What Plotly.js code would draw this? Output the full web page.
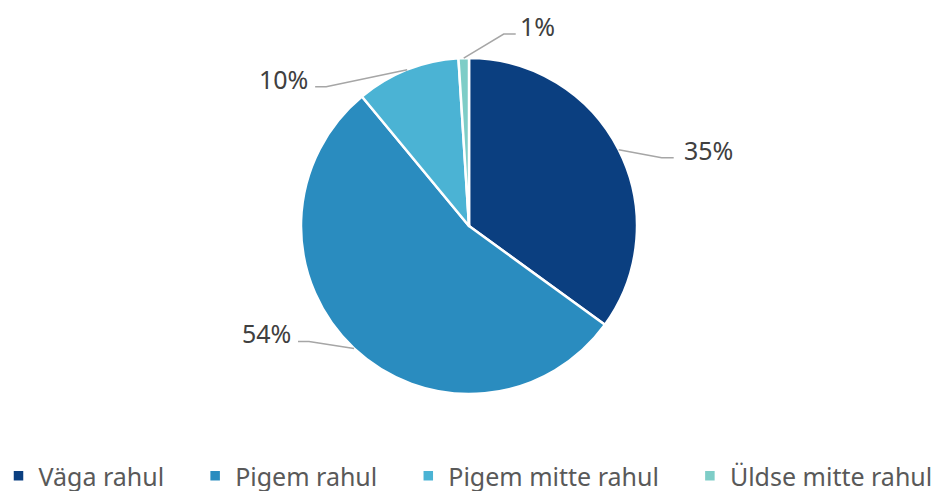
<!DOCTYPE html>
<html>
<head>
<meta charset="utf-8">
<script src="https://cdn.plot.ly/plotly-3.0.1.min.js"></script>
<style>html,body{margin:0;padding:0;background:#fff;}#chart{width:936px;height:491px;}</style>
</head>
<body>
<div id="chart"></div>
<script>
// ---- data ----
const categories = ["Väga rahul", "Pigem rahul", "Pigem mitte rahul", "Üldse mitte rahul"];
const shares = [35, 54, 10, 1];
const sliceColors = ["#0B3F80", "#2A8CBF", "#4BB3D4", "#7ECDC7"];

// ---- layout constants (pixels) ----
const W = 936, H = 491, B = 55;        // bottom margin reserved for the legend
const PH = H - B;                       // plot-area height
const CX = 469, CY = 226, R = 168;
// leader-line geometry per slice relative to slice-edge point: [elbowDx, elbowDy, endDx, endDy, textGap]
const leader = [[43, 8, 55, 8, 8], [-45, -7, -56, -7, -5], [-81, 17, -92, 17, -5], [40, -24, 52, -24, 2]];
const labelFont = {family: "Noto Sans, Open Sans, sans-serif", size: 25, color: "#404040"};
const pad = "\u00a0\u00a0\u00a0\u00a0";

const px = x => x / W, py = y => 1 - y / PH;

const total = shares.reduce((a, b) => a + b, 0);
const shapes = [], annotations = [];
let cum = 0;
shares.forEach((v, i) => {
  const mid = (cum + v / 2) / total * 2 * Math.PI;
  cum += v;
  const ex = CX + R * Math.sin(mid), ey = CY - R * Math.cos(mid);
  const [bx, by, tx, ty, gap] = leader[i];
  const x1 = ex + bx, y1 = ey + by, x2 = ex + tx, y2 = ey + ty;
  shapes.push({type: "path", xref: "paper", yref: "paper",
    path: `M${px(ex)},${py(ey)} L${px(x1)},${py(y1)} L${px(x2)},${py(y2)}`,
    line: {color: "#A6A6A6", width: 1.5}});
  const right = tx > 0;
  annotations.push({xref: "paper", yref: "paper", showarrow: false,
    x: px(x2 + gap), y: py(y2 - 8),
    xanchor: right ? "left" : "right", yanchor: "middle",
    text: Math.round(v / total * 100) + "%", font: labelFont});
});

const trace = {
  type: "pie",
  labels: categories.map((c, i) => i < categories.length - 1 ? c + pad : c),
  values: shares,
  sort: false,
  direction: "clockwise",
  rotation: 0,
  textinfo: "none",
  hoverinfo: "label+percent",
  marker: {colors: sliceColors, line: {color: "#FFFFFF", width: 2.5}},
  domain: {x: [px(CX - R), px(CX + R)], y: [py(CY + R), py(CY - R)]}
};

const layout = {
  width: W, height: H,
  margin: {l: 0, r: 0, t: 0, b: B},
  paper_bgcolor: "#FFFFFF",
  showlegend: true,
  legend: {orientation: "h", xref: "container", yref: "container",
    x: 0.5, xanchor: "center", y: 1 - 476 / H, yanchor: "middle",
    font: {family: "Noto Sans, Open Sans, sans-serif", size: 25, color: "#595959"},
    traceorder: "normal"},
  shapes: shapes,
  annotations: annotations
};

Plotly.newPlot("chart", [trace], layout, {displayModeBar: false, staticPlot: true});
</script>
</body>
</html>
